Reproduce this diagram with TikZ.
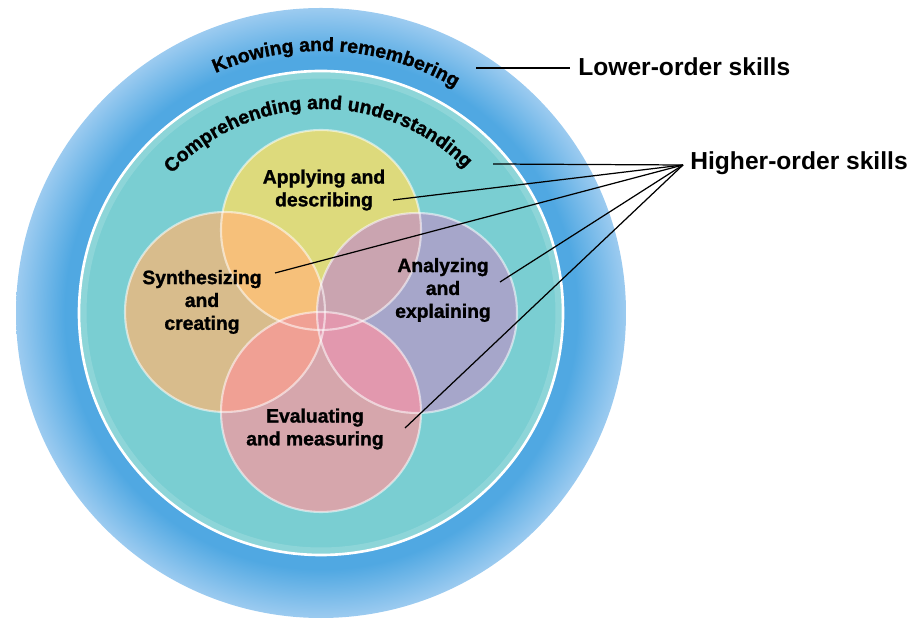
\documentclass[tikz,border=0pt]{standalone}
\usepackage{fontspec}
\setmainfont{Liberation Sans}
\newfontfamily\heavyfont{Liberation Sans}[BoldFeatures={FakeBold=1.3}]
\usetikzlibrary{decorations.text}

\definecolor{ringlight}{RGB}{156,203,240}
\definecolor{ringdark}{RGB}{80,168,226}
\definecolor{tealfill}{RGB}{122,206,210}
\definecolor{yellowfill}{RGB}{221,218,124}
\definecolor{orangefill}{RGB}{216,188,140}
\definecolor{purplefill}{RGB}{166,166,202}
\definecolor{pinkfill}{RGB}{214,166,172}
\definecolor{yelloworange}{RGB}{246,192,122}
\definecolor{yellowpurple}{RGB}{202,164,176}
\definecolor{orangepink}{RGB}{240,160,148}
\definecolor{purplepink}{RGB}{226,152,174}

\pgfdeclareradialshading{bluering}{\pgfpoint{0bp}{0bp}}{color(0bp)=(ringdark); color(21bp)=(ringdark); color(25bp)=(ringlight); color(50bp)=(ringlight)}

\begin{document}
\begin{tikzpicture}[x=0.02cm, y=0.02cm]
	\tikzstyle{skill} = [font=\heavyfont\bfseries\fontsize{11}{13}\selectfont, align=center]
	\tikzstyle{order} = [font=\bfseries\fontsize{14}{16}\selectfont, anchor=base west, inner sep=0pt]
	\tikzstyle{pointer} = [line width=0.7pt]
	\tikzstyle{rim} = [draw=white, draw opacity=0.55, line width=1.2pt]
	\useasboundingbox (0,0) rectangle (908,618);
	
	\coordinate (c) at (321,305);
	\coordinate (yc) at (321,388);
	\coordinate (oc) at (225,306);
	\coordinate (pc) at (417,305);
	\coordinate (kc) at (321,206);
	
	% rings
	\shade[shading=bluering] (c) circle[radius=305];
	\fill[tealfill] (c) circle[radius=242];
	\draw[white, opacity=0.15, line width=4pt] (c) circle[radius=238];
	\draw[white, line width=1.5pt] (c) circle[radius=242];
	
	% skill circles
	\fill[yellowfill] (yc) circle[radius=100];
	\fill[orangefill] (oc) circle[radius=100];
	\fill[purplefill] (pc) circle[radius=100];
	\fill[pinkfill] (kc) circle[radius=100];
	\begin{scope}
		\clip (yc) circle[radius=100];
		\fill[yelloworange] (oc) circle[radius=100];
		\fill[yellowpurple] (pc) circle[radius=100];
	\end{scope}
	\begin{scope}
		\clip (kc) circle[radius=100];
		\fill[orangepink] (oc) circle[radius=100];
		\fill[purplepink] (pc) circle[radius=100];
	\end{scope}
	\foreach \cc in {yc, oc, pc, kc}
		\draw[rim] (\cc) circle[radius=100];
	
	\path[decorate, decoration={text along path, text align=center,
		text={|\heavyfont\bfseries\fontsize{11}{13}\selectfont|Knowing and remembering}}]
		(c) ++(131.5:262) arc[start angle=131.5, end angle=41.5, radius=262];
	\path[decorate, decoration={text along path, text align=center,
		text={|\heavyfont\bfseries\fontsize{11}{13}\selectfont|Comprehending and understanding}}]
		(c) ++(150:204) arc[start angle=150, end angle=32, radius=204];
	
	\node[skill] (apply) at (324,428) {Applying and\\describing};
	\node[skill] (synth) at (202,316) {Synthesizing\\and\\creating};
	\node[skill] (analyze) at (443,328) {Analyzing\\and\\explaining};
	\node[skill] (evaluate) at (315,189) {Evaluating\\and measuring};
	
	\node[order] (lower) at (578,542) {Lower-order skills};
	\node[order] (higher) at (690,448) {Higher-order skills};
	
	\coordinate (know) at (476,550);
	\coordinate (lowend) at (570,550);
	\coordinate (fan) at (683,453);
	\coordinate (comp) at (493,454);
	\coordinate (applyend) at (393,418);
	\coordinate (synthend) at (275,345);
	\coordinate (analyzeend) at (500,336);
	\coordinate (evaluateend) at (405,190);
	
	\draw[pointer] (know) -- (lowend);
	\draw[pointer] (comp) -- (fan);
	\draw[pointer] (applyend) -- (fan);
	\draw[pointer] (synthend) -- (fan);
	\draw[pointer] (analyzeend) -- (fan);
	\draw[pointer] (evaluateend) -- (fan);
\end{tikzpicture}
\end{document}
